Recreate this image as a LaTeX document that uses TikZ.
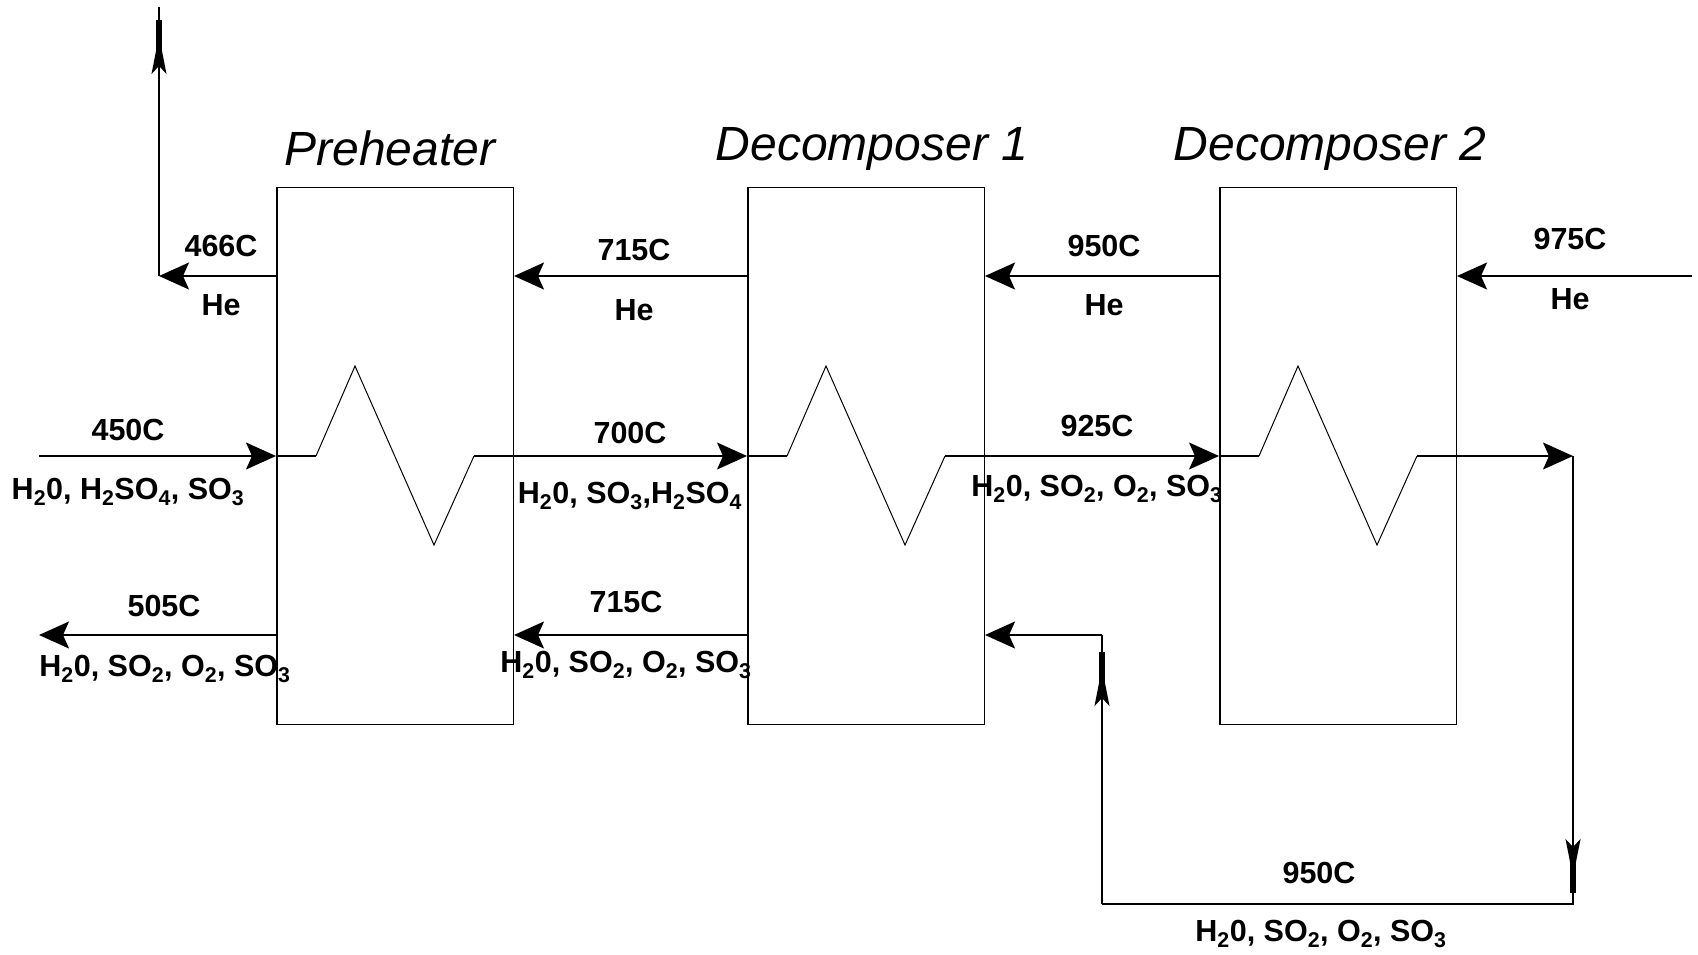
\documentclass[tikz,border=0pt]{standalone}
\usepackage{fontspec}
\setmainfont{Liberation Sans}
\usetikzlibrary{arrows.meta}
\newcommand{\gasmix}{H\textsubscript{2}0, SO\textsubscript{2}, O\textsubscript{2}, SO\textsubscript{3}}
\begin{document}
\begin{tikzpicture}[
        x=1pt, y=-1pt,
        unitbox/.style={rectangle, draw, line width=1.5pt, inner sep=0pt, minimum width=236.5pt, minimum height=537pt},
        unitname/.style={font=\fontsize{48}{48}\selectfont\itshape, inner sep=0pt},
        stream/.style={font=\fontsize{30.5}{30.5}\selectfont\bfseries, inner sep=0pt},
        arrow/.style={-{Stealth[length=30pt, width=27pt, inset=6pt]}, line width=1.5pt},
        longarrow/.style={-{Stealth[length=38pt, width=15pt, inset=8pt, sep=-24pt]Rectangle[length=40pt, width=6pt, sep=0pt]}, line width=1.5pt},
        pipe/.style={line width=1.5pt},
        coil/.style={line width=1pt}
    ]
        \useasboundingbox (0, 0) rectangle (1698, 954);
        \node[unitbox] (pre) at (395, 456) {};
        \node[unitbox] (dcone) at (866, 456) {};
        \node[unitbox] (dctwo) at (1338, 456) {};
        \node[unitname] (prename) at (390, 148) {Preheater};
        \node[unitname] (dconename) at (872, 149) {Decomposer 1};
        \node[unitname] (dctwoname) at (1330, 149) {Decomposer 2};

        \coordinate (helevel) at (0, 276);
        \coordinate (feedlevel) at (0, 456);
        \coordinate (gaslevel) at (0, 635);

        % heating coils
        \foreach \unit in {pre, dcone, dctwo} {
            \coordinate (\unit in) at (\unit.west |- feedlevel);
            \coordinate (\unit he) at (\unit.east |- helevel);
            \coordinate (\unit gas) at (\unit.east |- gaslevel);
            \draw[pipe] (\unit in) -- ++(40, 0) coordinate (\unit a);
            \draw[coil] (\unit a) -- ++(39, -90) -- ++(79, 179) -- ++(40, -89) coordinate (\unit out);
        }

        % helium side
        \coordinate (hein) at (1692, 276);
        \coordinate (hecorner) at (159, 276);
        \coordinate (heend) at (159, 7);
        \coordinate (heneck) at (159, 20);
        \draw[arrow] (hein) -- (dctwohe);
        \draw[arrow] (dctwo.west |- helevel) -- (dconehe);
        \draw[arrow] (dcone.west |- helevel) -- (prehe);
        \draw[arrow] (pre.west |- helevel) -- (hecorner);
        \draw[longarrow] (hecorner) -- (heneck);
        \draw[pipe] (heneck) -- (heend);

        % acid side
        \coordinate (feed) at (39, 456);
        \coordinate (dctwoend) at (1573, 456);
        \coordinate (dropend) at (1573, 893);
        \coordinate (bottomright) at (1573, 904);
        \coordinate (bottomleft) at (1102, 904);
        \coordinate (riseend) at (1102, 652);
        \coordinate (topleft) at (1102, 635);
        \coordinate (gasend) at (39, 635);
        \draw[arrow] (feed) -- (prein);
        \draw[arrow] (preout) -- (dconein);
        \draw[arrow] (dconeout) -- (dctwoin);
        \draw[arrow] (dctwoout) -- (dctwoend);
        \draw[longarrow] (dctwoend) -- (dropend);
        \draw[pipe] (dropend) -- (bottomright) -- (bottomleft);
        \draw[longarrow] (bottomleft) -- (riseend);
        \draw[pipe] (riseend) -- (topleft);
        \draw[arrow] (topleft) -- (dconegas);
        \draw[arrow] (dcone.west |- gaslevel) -- (pregas);
        \draw[arrow] (pre.west |- gaslevel) -- (gasend);

        % stream labels
        \node[stream] (heat) at (221, 246) {466C};
        \node[stream] (hea) at (221, 305) {He};
        \node[stream] (heb) at (634, 250) {715C};
        \node[stream] (hebn) at (634, 310) {He};
        \node[stream] (hec) at (1104, 246) {950C};
        \node[stream] (hecn) at (1104, 305) {He};
        \node[stream] (hed) at (1570, 239) {975C};
        \node[stream] (hedn) at (1570, 299) {He};
        \node[stream] (feedt) at (128, 430) {450C};
        \node[stream] (feedn) at (128, 492) {H\textsubscript{2}0, H\textsubscript{2}SO\textsubscript{4}, SO\textsubscript{3}};
        \node[stream] (oft) at (630, 433) {700C};
        \node[stream] (ofn) at (630, 496) {H\textsubscript{2}0, SO\textsubscript{3},H\textsubscript{2}SO\textsubscript{4}};
        \node[stream] (sft) at (1097, 426) {925C};
        \node[stream] (sfn) at (1097, 489) {\gasmix};
        \node[stream] (gast) at (164, 606) {505C};
        \node[stream] (gasn) at (165, 669) {\gasmix};
        \node[stream] (midt) at (626, 602) {715C};
        \node[stream] (midn) at (626, 665) {\gasmix};
        \node[stream] (bott) at (1319, 873) {950C};
        \node[stream] (botn) at (1321, 934) {\gasmix};
    \end{tikzpicture}
\end{document}
